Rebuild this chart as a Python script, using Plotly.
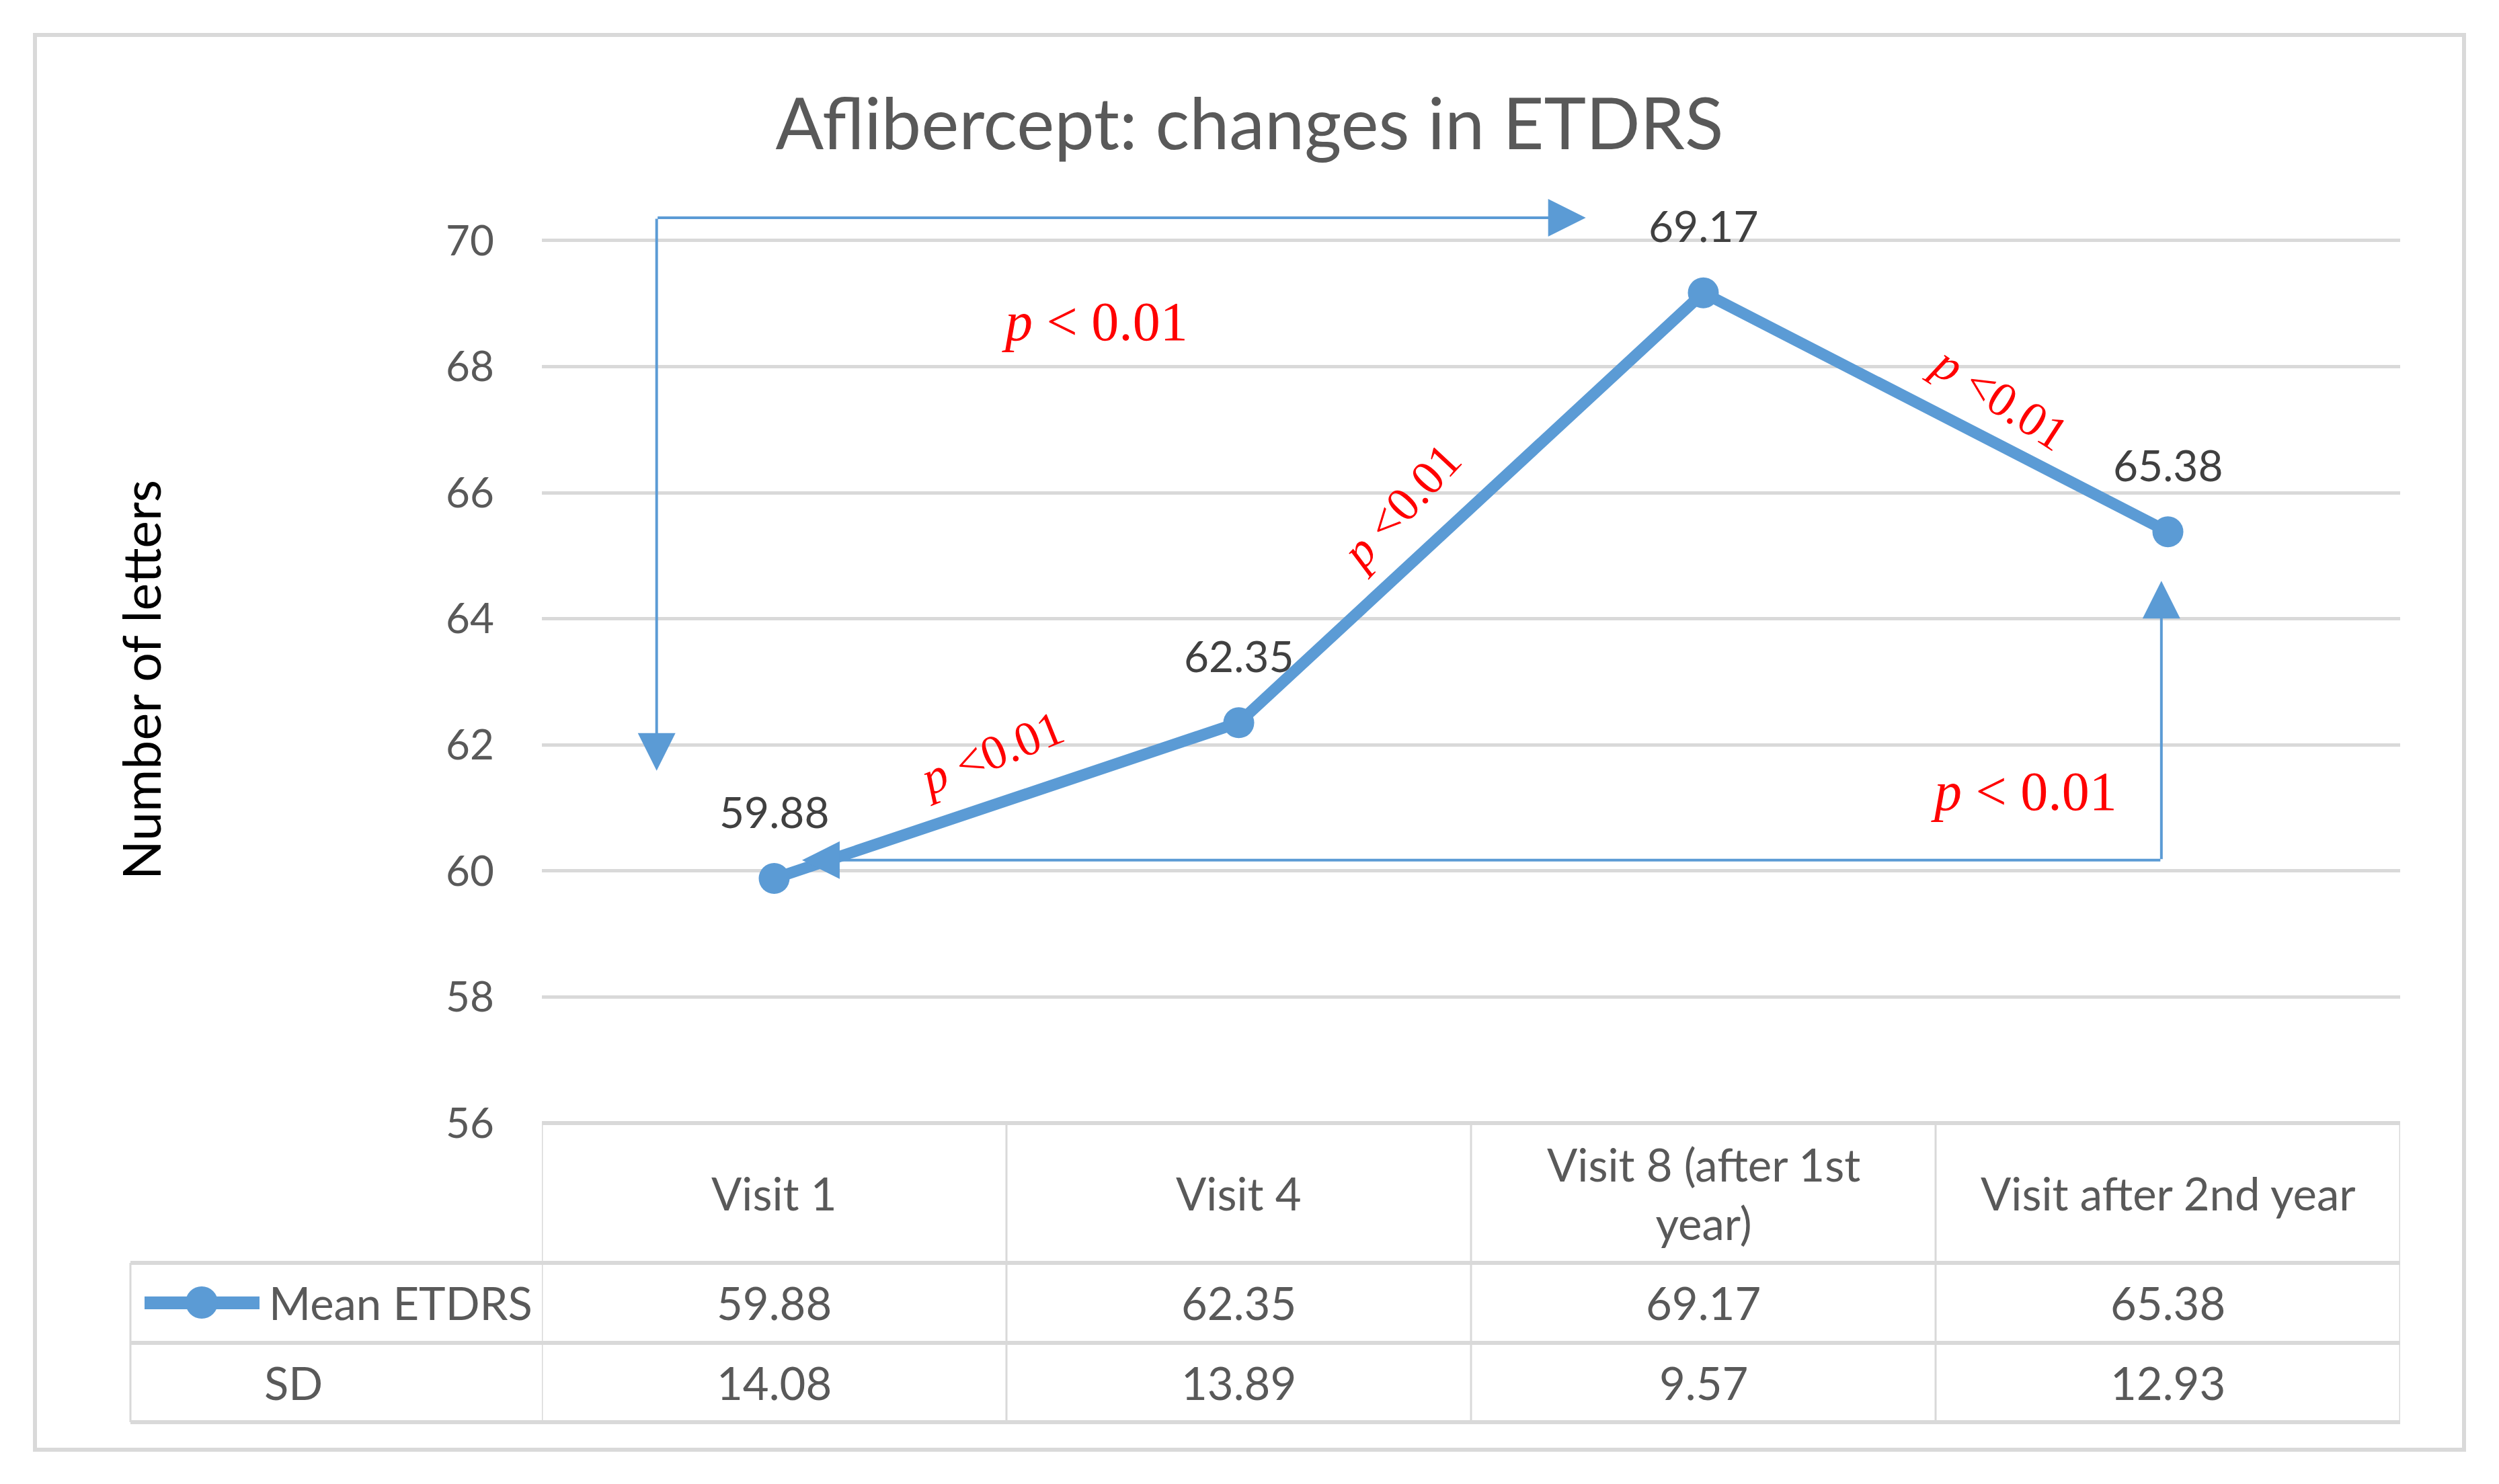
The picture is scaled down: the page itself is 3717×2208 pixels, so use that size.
import plotly.graph_objects as go

# ---- data ----
categories = ["Visit 1", "Visit 4", "Visit 8 (after 1st year)", "Visit after 2nd year"]
header_labels = ["Visit 1", "Visit 4", "Visit 8 (after 1st<br>year)", "Visit after 2nd year"]
mean_etdrs = [59.88, 62.35, 69.17, 65.38]
sd_values = [14.08, 13.89, 9.57, 12.93]
y_ticks = [56, 58, 60, 62, 64, 66, 68, 70]

W, H = 3717, 2208
PL, PR, PT, PB = 806, 3570, 264, 1671
BLUE = "#5B9BD5"
GRID = "#D9D9D9"
TXT = "#595959"
FONT = "Lato"


def px(x):
    return (x - PL) / (PR - PL)


def py(y):
    return (PB - y) / (PB - PT)


xs = list(range(len(categories)))

fig = go.Figure()
fig.add_trace(go.Scatter(
    x=xs, y=mean_etdrs, mode="lines+markers",
    line=dict(color=BLUE, width=17),
    marker=dict(color=BLUE, size=46),
    showlegend=False, hoverinfo="skip",
))

annotations = []
shapes = []

# data labels
for x, v in zip(xs, mean_etdrs):
    annotations.append(dict(x=x, y=v, xref="x", yref="y", text=f"{v:.2f}", showarrow=False,
                            yshift=100, font=dict(family=FONT, size=64, color="#404040")))

# bracket arrows
arrow_style = dict(showarrow=True, arrowhead=2, arrowsize=2.8, arrowwidth=4, arrowcolor=BLUE,
                   axref="x", ayref="y", xref="x", yref="y", text="", standoff=0, startstandoff=0)
# top bracket: Visit 1 -> Visit 8
annotations.append(dict(x=1.747, y=70.36, ax=-0.253, ay=70.36, **arrow_style))
annotations.append(dict(x=-0.253, y=61.59, ax=-0.253, ay=70.36, **arrow_style))
# bottom bracket: Visit 1 <-> after 2nd year
annotations.append(dict(x=0.06, y=60.17, ax=2.986, ay=60.17, **arrow_style))
annotations.append(dict(x=2.986, y=64.60, ax=2.986, ay=60.17, **arrow_style))


# p-value labels
def p_ann(x, y, angle, size, text):
    annotations.append(dict(x=x, y=y, xref="x", yref="y", text=text, showarrow=False,
                            textangle=angle, xanchor="center", yanchor="middle",
                            font=dict(family="Liberation Serif", size=size, color="#FF0000")))


p_main = "<i>p</i> < 0.01"
p_tight = "<i>p</i> <0.01"
p_ann(0.69, 68.71, 0, 82, p_main)
p_ann(2.69, 61.26, 0, 82, p_main)
p_ann(0.467, 61.86, -22, 72, p_tight)
p_ann(1.348, 65.78, -47, 72, p_tight)
p_ann(2.638, 67.50, 33, 72, p_tight)

# y-axis title
annotations.append(dict(x=px(209), y=py(1012), xref="paper", yref="paper", text="Number of letters",
                        showarrow=False, textangle=-90, xanchor="center", yanchor="middle",
                        font=dict(family=FONT, size=77, color="#000000")))

# ---- data table below the plot ----
row_top, row_mid1, row_mid2, row_bot = 1671, 1879, 1998, 2116
left_col = 194
# horizontal borders
shapes.append(dict(type="line", xref="paper", yref="paper", x0=0, x1=1, y0=py(row_top), y1=py(row_top),
                   line=dict(color=GRID, width=6)))
for yy in (row_mid1, row_mid2, row_bot):
    shapes.append(dict(type="line", xref="paper", yref="paper", x0=px(left_col), x1=1, y0=py(yy), y1=py(yy),
                       line=dict(color=GRID, width=6)))
# vertical borders
for i in range(len(categories) + 1):
    shapes.append(dict(type="line", xref="x", yref="paper", x0=i - 0.5, x1=i - 0.5,
                       y0=py(row_top), y1=py(row_bot), line=dict(color=GRID, width=3)))
shapes.append(dict(type="line", xref="paper", yref="paper", x0=px(left_col), x1=px(left_col),
                   y0=py(row_mid1), y1=py(row_bot), line=dict(color=GRID, width=3)))

tfont = dict(family=FONT, size=67, color=TXT)
for x, h, m, s in zip(xs, header_labels, mean_etdrs, sd_values):
    annotations.append(dict(x=x, y=py((row_top + row_mid1) / 2), xref="x", yref="paper", text=h,
                            showarrow=False, font=tfont, align="center", xanchor="center", yanchor="middle"))
    annotations.append(dict(x=x, y=py((row_mid1 + row_mid2) / 2), xref="x", yref="paper", text=f"{m:.2f}",
                            showarrow=False, font=tfont, xanchor="center", yanchor="middle"))
    annotations.append(dict(x=x, y=py((row_mid2 + row_bot) / 2), xref="x", yref="paper", text=f"{s:.2f}",
                            showarrow=False, font=tfont, xanchor="center", yanchor="middle"))

# legend key in table
ky = py((row_mid1 + row_mid2) / 2)
shapes.append(dict(type="line", xref="paper", yref="paper", x0=px(215), x1=px(386), y0=ky, y1=ky,
                   line=dict(color=BLUE, width=19)))
shapes.append(dict(type="circle", xref="paper", yref="paper", x0=px(276), x1=px(324),
                   y0=py(1938 + 24), y1=py(1938 - 24), fillcolor=BLUE, line=dict(width=0)))
annotations.append(dict(x=px(398), y=ky, xref="paper", yref="paper", text="Mean ETDRS", xanchor="left",
                        yanchor="middle", showarrow=False, font=tfont))
annotations.append(dict(x=px(436), y=py((row_mid2 + row_bot) / 2), xref="paper", yref="paper", text="SD",
                        xanchor="center", yanchor="middle", showarrow=False, font=tfont))

# outer border
shapes.append(dict(type="rect", xref="paper", yref="paper", x0=px(52), x1=px(3665), y0=py(52), y1=py(2157),
                   line=dict(color=GRID, width=6), layer="below"))

fig.update_layout(
    width=W, height=H,
    margin=dict(l=PL, r=W - PR, t=PT, b=H - PB),
    paper_bgcolor="white", plot_bgcolor="white",
    title=dict(text="Aflibercept: changes in ETDRS", x=0.5, xref="container", y=1 - 185 / H,
               yref="container", xanchor="center", yanchor="middle",
               font=dict(family=FONT, size=106, color=TXT)),
    xaxis=dict(range=[-0.5, 3.5], showticklabels=False, showgrid=False, zeroline=False,
               showline=False, ticks="", automargin=False),
    yaxis=dict(range=[56, 71], tickvals=y_ticks, ticktext=[str(t) for t in y_ticks],
               showgrid=True, gridcolor=GRID, gridwidth=5, zeroline=False, showline=False,
               ticks="", ticklabelstandoff=70, automargin=False,
               tickfont=dict(family=FONT, size=62, color=TXT)),
    annotations=annotations,
    shapes=shapes,
)

fig.write_html(
    "out.html",
    config={"displayModeBar": False},
    post_script="document.body.style.margin='0';document.body.style.padding='0';"
                "document.body.style.overflow='hidden';",
)
